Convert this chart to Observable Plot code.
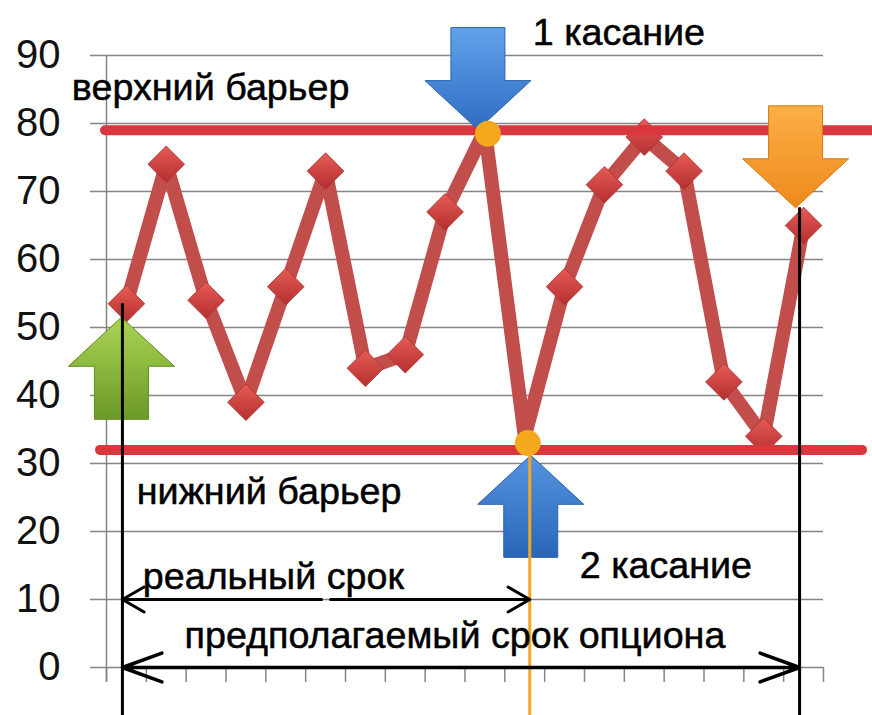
<!DOCTYPE html>
<html>
<head>
<meta charset="utf-8">
<script src="https://cdn.jsdelivr.net/npm/d3@7"></script>
<script src="https://cdn.jsdelivr.net/npm/@observablehq/plot@0.6"></script>
<style>
  html, body { margin: 0; padding: 0; background: #fff; }
  #chart svg { display: block; }
</style>
</head>
<body>
<div id="chart"></div>
<script>
// ---------------- data ----------------
const periods = [1, 2, 3, 4, 5, 6, 7, 8, 9, 10, 11, 12, 13, 14, 15, 16, 17, 18];
const prices  = [53.5, 74, 54, 39, 56, 73, 44, 46, 67, 79, 34, 56, 71, 78, 73, 42, 34, 65];
const yTicks  = [0, 10, 20, 30, 40, 50, 60, 70, 80, 90];
const xTicks  = [0, 1, 2, 3, 4, 5, 6, 7, 8, 9, 10, 11, 12, 13, 14, 15, 16, 17, 18];

const barrierUpper = 79;
const barrierLower = 32;

const touchPeriods = [10, 11];
const touchLevels  = [78.5, 33];

const entryPeriod  = 1;
const touchPeriod  = 11;
const expiryPeriod = 18;
const entryLevel   = 53.5;
const expiryLevel  = 67.6;

const arrowNames   = ["entry", "touch1", "touch2", "expiry"];
const arrowPeriods = [1, 10, 11, 18];
const arrowLevels  = [51.5, 79.1, 31.2, 67.6];

const labelTexts = ["верхний барьер", "1 касание", "нижний барьер", "2 касание", "реальный срок", "предполагаемый срок опциона"];
const labelX     = [-0.87, 10.7, 0.76, 11.88, 0.91, 1.96];
const labelY     = [83.4, 91.5, 24.1, 13.2, 11.6, 2.9];

const termNames = ["реальный срок", "предполагаемый срок опциона"];
const termFrom  = [1, 1];
const termTo    = [11, 18];
const termLevel = [10, 0];

// ---------------- tables ----------------
const series  = periods.map((p, i) => ({period: p, price: prices[i]}));
const markers = series.filter(d => !touchPeriods.includes(d.period));
const touches = touchPeriods.map((p, i) => ({period: p, level: touchLevels[i]}));
const arrows  = arrowNames.map((n, i) => ({name: n, period: arrowPeriods[i], level: arrowLevels[i]}));
const labels  = labelTexts.map((t, i) => ({text: t, x: labelX[i], y: labelY[i]}));
const terms   = termNames.map((n, i) => ({name: n, from: termFrom[i], to: termTo[i], level: termLevel[i]}));
const arrowOf = name => arrows.filter(d => d.name === name);
const cx = p => p - 0.5;

// block-arrow symbol, tip at the anchor point
function blockArrow(dir) {
  const k = dir === "down" ? 1 : -1;
  const pts = [[0, 0], [53, -49], [27, -49], [27, -102], [-27, -102], [-27, -49], [-53, -49]];
  return {
    draw(ctx, size) {
      const s = Math.sqrt(size / Math.PI) / 50;
      pts.forEach(([x, y], i) => i ? ctx.lineTo(x * s, k * y * s) : ctx.moveTo(x * s, k * y * s));
      ctx.closePath();
    }
  };
}
const arrowDown = blockArrow("down");
const arrowUp = blockArrow("up");

function termArrows(t, dxFrom, dxTo, sw, headLength, headAngle) {
  const mid = (t.from + t.to) / 2;
  return [
    Plot.arrow([t], {x1: d => cx(mid), x2: d => cx(d.from), y1: "level", y2: "level", dx: dxFrom,
      stroke: "#000", strokeWidth: sw, headLength, headAngle}),
    Plot.arrow([t], {x1: d => cx(mid), x2: d => cx(d.to), y1: "level", y2: "level", dx: dxTo,
      stroke: "#000", strokeWidth: sw, headLength, headAngle})
  ];
}

const chart = Plot.plot({
  width: 872,
  height: 715,
  marginLeft: 106,
  marginRight: 49,
  marginTop: 55,
  marginBottom: 48,
  x: {domain: [0, 18], axis: null},
  y: {domain: [0, 90], axis: null},
  style: {fontFamily: "'Liberation Sans', Arial, sans-serif", background: "#fff", color: "#000", overflow: "visible"},
  marks: [
    Plot.gridY(yTicks, {stroke: "#858585", strokeOpacity: 1, strokeWidth: 1.5}),
    Plot.axisY(yTicks, {tickSize: 16, tickPadding: 30, fontSize: 40, stroke: "#858585", strokeWidth: 1.5, fill: "#111", label: null}),
    Plot.axisX(xTicks, {tickSize: 15, tickFormat: () => "", stroke: "#858585", strokeWidth: 1.5, label: null}),
    Plot.ruleX([0], {stroke: "#858585", strokeWidth: 1.5, insetBottom: -15}),

    Plot.line(series, {x: d => cx(d.period), y: "price", stroke: "#c24e4b", strokeWidth: 14,
      strokeLinejoin: "round", strokeLinecap: "round"}),
    Plot.dot(markers, {x: d => cx(d.period), y: "price", symbol: "diamond2", r: 16.5,
      fill: "url(#gDiamond)", stroke: "#a83030", strokeWidth: 0.8}),

    Plot.ruleY([barrierUpper], {stroke: "#d9363e", strokeWidth: 10, strokeLinecap: "round", insetLeft: -1, insetRight: -49}),
    Plot.ruleY([barrierLower], {stroke: "#d9363e", strokeWidth: 10, strokeLinecap: "round", insetLeft: -6, insetRight: -39}),

    Plot.dot(arrowOf("entry"), {x: d => cx(d.period), y: "level", symbol: arrowUp, r: 50, dx: -5,
      fill: "url(#gGreen)", stroke: "#5f8c22", strokeWidth: 1}),
    Plot.dot(arrowOf("touch1"), {x: d => cx(d.period), y: "level", symbol: arrowDown, r: 50, dx: -7,
      fill: "url(#gBlueDown)", stroke: "#2c62ad", strokeWidth: 1}),
    Plot.dot(arrowOf("touch2"), {x: d => cx(d.period), y: "level", symbol: arrowUp, r: 50, dx: 6,
      fill: "url(#gBlueUp)", stroke: "#2c62ad", strokeWidth: 1}),
    Plot.dot(arrowOf("expiry"), {x: d => cx(d.period), y: "level", symbol: arrowDown, r: 50, dx: -8,
      fill: "url(#gOrange)", stroke: "#d9780f", strokeWidth: 1}),

    Plot.ruleX([entryPeriod], {x: cx, y1: entryLevel, y2: 0, insetBottom: -48, dx: -4, stroke: "#000", strokeWidth: 3}),
    Plot.ruleX([expiryPeriod], {x: cx, y1: expiryLevel, y2: 0, insetBottom: -48, dx: -4, stroke: "#000", strokeWidth: 3}),
    Plot.ruleX([touchPeriod], {x: cx, y1: touchLevels[1], y2: 0, insetBottom: -48, dx: 5, stroke: "#f5a623", strokeWidth: 3}),

    ...termArrows(terms[0], -4, 5, 3, 12.5, 60),
    ...termArrows(terms[1], -4, -4, 3.5, 18, 40),

    Plot.dot(touches, {x: d => cx(d.period), y: "level", r: 13, dx: 3, fill: "#f4a81d"}),

    Plot.text(labels, {x: "x", y: "y", text: "text", textAnchor: "start", lineAnchor: "bottom",
      fontSize: 37.7, fill: "#000", stroke: "#000", strokeWidth: 0.5})
  ]
});

// gradients
const defs = d3.select(chart).insert("defs", ":first-child");
function grad(id, stops) {
  const g = defs.append("linearGradient").attr("id", id).attr("x1", 0).attr("y1", 0).attr("x2", 0).attr("y2", 1);
  stops.forEach(([o, c]) => g.append("stop").attr("offset", o).attr("stop-color", c));
}
grad("gDiamond", [[0, "#e65b55"], [1, "#b32f2f"]]);
grad("gBlueDown", [[0, "#62a2ea"], [1, "#2e6cc2"]]);
grad("gBlueUp", [[0, "#5594e0"], [1, "#2a66b6"]]);
grad("gOrange", [[0, "#fbb046"], [1, "#ee891c"]]);
grad("gGreen", [[0, "#abd453"], [1, "#6b9a28"]]);

document.getElementById("chart").appendChild(chart);
</script>
</body>
</html>
